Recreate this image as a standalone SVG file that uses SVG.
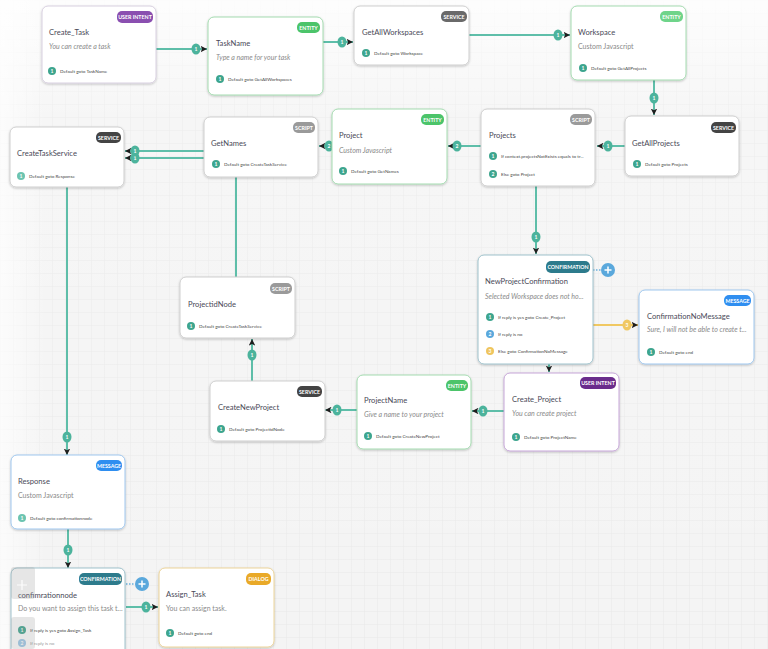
<svg xmlns="http://www.w3.org/2000/svg" width="768" height="649" viewBox="0 0 768 649">
<defs>
<pattern id="grid" width="13" height="13" patternUnits="userSpaceOnUse">
<path d="M13 0H0V13" fill="none" stroke="#e7e7e7" stroke-width="1"/>
</pattern>
<linearGradient id="fadeTop" x1="0" y1="0" x2="0" y2="1">
<stop offset="0" stop-color="#ffffff" stop-opacity="0.85"/>
<stop offset="0.18" stop-color="#ffffff" stop-opacity="0.2"/>
<stop offset="1" stop-color="#ffffff" stop-opacity="0"/>
</linearGradient>
<linearGradient id="fadeLeft" x1="0" y1="0" x2="1" y2="0">
<stop offset="0" stop-color="#ffffff" stop-opacity="0.7"/>
<stop offset="0.06" stop-color="#ffffff" stop-opacity="0"/>
</linearGradient>
<filter id="sh" x="-10%" y="-10%" width="120%" height="130%">
<feDropShadow dx="0" dy="1" stdDeviation="1.3" flood-color="#000" flood-opacity="0.22"/>
</filter>
<marker id="arr" viewBox="0 0 10 10" refX="10" refY="5" markerWidth="6.5" markerHeight="6.5" orient="auto" markerUnits="userSpaceOnUse">
<path d="M0 0L10 5L0 10L2.5 5z" fill="#1e1e1e"/>
</marker>
<style>
.node{fill:#fff;stroke:#cfcfcf;stroke-width:1;filter:url(#sh)}
.ent{stroke:#a4dbb0}
.msg{stroke:#9fc7ee}
.conf{stroke:#9fc2cc}
.ui{stroke:#c6a6d8}
.dlg{stroke:#ecd49a}
.title{font-family:Lato,"Liberation Sans",sans-serif;font-size:7.6px;fill:#4a4a58}
.sub{font-family:Lato,"Liberation Sans",sans-serif;font-size:7px;fill:#8a8a8a}
.it{font-style:italic}
.row{font-family:Lato,"Liberation Sans",sans-serif;font-size:4.6px;fill:#444}
.bt{font-family:Lato,"Liberation Sans",sans-serif;font-size:5.3px;fill:#fff;text-anchor:middle;font-weight:bold}
.num{font-family:Lato,"Liberation Sans",sans-serif;font-size:5px;fill:#fff;text-anchor:middle;font-weight:bold}
.rc{fill:#3da58e}
.line{fill:none;stroke:#5ebea9;stroke-width:2}
.yline{fill:none;stroke:#f0c862;stroke-width:2}
.dot{fill:none;stroke:#6ab0dc;stroke-width:1.5;stroke-dasharray:1.5 1.5}
.cb{fill:#4cb39c}
</style>
</defs>
<rect width="768" height="649" fill="#f4f4f4"/>
<rect width="768" height="649" fill="url(#grid)"/>
<rect width="768" height="649" fill="url(#fadeTop)"/>
<rect width="768" height="649" fill="url(#fadeLeft)"/>

<g id="connectors">
<path class="line" d="M156 49H207" marker-end="url(#arr)"/>
<ellipse class="cb" cx="196" cy="49" rx="4.5" ry="5.5"/><text class="num" x="196" y="50.8">1</text>
<path class="line" d="M323 42H353" marker-end="url(#arr)"/>
<ellipse class="cb" cx="342" cy="42" rx="4.5" ry="5.5"/><text class="num" x="342" y="43.8">1</text>
<path class="line" d="M469 35H570" marker-end="url(#arr)"/>
<ellipse class="cb" cx="558" cy="35" rx="4.5" ry="5.5"/><text class="num" x="558" y="36.8">1</text>
<path class="line" d="M654 80V115" marker-end="url(#arr)"/>
<ellipse class="cb" cx="654" cy="98" rx="4.5" ry="5.5"/><text class="num" x="654" y="99.8">1</text>
<path class="line" d="M625 146H597" marker-end="url(#arr)"/>
<ellipse class="cb" cx="608" cy="146" rx="4.5" ry="5.5"/><text class="num" x="608" y="147.8">1</text>
<path class="line" d="M481 146H448" marker-end="url(#arr)"/>
<ellipse class="cb" cx="457" cy="146" rx="4.5" ry="5.5"/><text class="num" x="457" y="147.8">2</text>
<path class="line" d="M332 146H319" marker-end="url(#arr)"/>
<ellipse class="cb" cx="329" cy="146" rx="4.5" ry="5.5"/><text class="num" x="329" y="147.8">2</text>
<path class="line" d="M204 151H125" marker-end="url(#arr)"/>
<path class="line" d="M236 277V158H125" marker-end="url(#arr)"/>
<ellipse class="cb" cx="135" cy="158" rx="4.5" ry="5.5"/><text class="num" x="135" y="159.8">1</text>
<ellipse class="cb" cx="135" cy="151" rx="4.5" ry="5.5"/><text class="num" x="135" y="152.8">1</text>
<path class="line" d="M536 186V254" marker-end="url(#arr)"/>
<ellipse class="cb" cx="536" cy="237" rx="4.5" ry="5.5"/><text class="num" x="536" y="238.8">1</text>
<path class="dot" d="M593 270H601"/>
<path class="yline" d="M593 325H638" marker-end="url(#arr)"/>
<ellipse cx="627" cy="325" rx="4.5" ry="5.5" fill="#f0c862"/><text class="num" x="627" y="326.8">3</text>
<path class="line" d="M549 364V372" marker-end="url(#arr)"/>
<path class="line" d="M504 411H472" marker-end="url(#arr)"/>
<ellipse class="cb" cx="483" cy="411" rx="4.5" ry="5.5"/><text class="num" x="483" y="412.8">1</text>
<path class="line" d="M357 410H325" marker-end="url(#arr)"/>
<ellipse class="cb" cx="337" cy="410" rx="4.5" ry="5.5"/><text class="num" x="337" y="411.8">1</text>
<path class="line" d="M252 381V339" marker-end="url(#arr)"/>
<ellipse class="cb" cx="252" cy="355" rx="4.5" ry="5.5"/><text class="num" x="252" y="356.8">1</text>
<path class="line" d="M67 187V455" marker-end="url(#arr)"/>
<ellipse class="cb" cx="67" cy="437" rx="4.5" ry="5.5"/><text class="num" x="67" y="438.8">1</text>
<path class="line" d="M68 529V568" marker-end="url(#arr)"/>
<ellipse class="cb" cx="68" cy="550" rx="4.5" ry="5.5"/><text class="num" x="68" y="551.8">1</text>
<path class="dot" d="M126 584H135"/>
<path class="line" d="M126 607H158" marker-end="url(#arr)"/>
<ellipse class="cb" cx="146" cy="607" rx="4.5" ry="5.5"/><text class="num" x="146" y="608.8">1</text>
</g>

<g id="plus-npc">
<circle cx="608" cy="270" r="7" fill="#5aa8dc"/>
<path d="M604.5 270H611.5M608 266.5V273.5" stroke="#fff" stroke-width="1.5"/>
</g>
<g id="plus-conf">
<circle cx="142" cy="584" r="7" fill="#5aa8dc"/>
<path d="M138.5 584H145.5M142 580.5V587.5" stroke="#fff" stroke-width="1.5"/>
</g>

<g id="Create_Task">
<rect class="node ui" x="42" y="6" width="114" height="77" rx="6" style="stroke:#d8d0e0"/>
<rect x="117" y="11" width="36" height="12" rx="5" fill="#8a4fb0"/><text class="bt" x="135" y="19">USER INTENT</text>
<text class="title" x="49" y="35">Create_Task</text>
<text class="sub it" x="49" y="48.5">You can create a task</text>
<circle class="rc" cx="52" cy="71" r="4"/><text class="num" x="52" y="72.7">1</text>
<text class="row" x="60" y="72.6">Default goto TaskName</text>
</g>

<g id="TaskName">
<rect class="node ent" x="208" y="17" width="115" height="78" rx="6"/>
<rect x="297" y="22" width="23" height="11" rx="5" fill="#4cc46a"/><text class="bt" x="308.5" y="29.6">ENTITY</text>
<text class="title" x="216" y="46">TaskName</text>
<text class="sub it" x="216" y="60">Type a name for your task</text>
<circle class="rc" cx="220" cy="79" r="4"/><text class="num" x="220" y="80.7">1</text>
<text class="row" x="228" y="80.6">Default goto GetAllWorkspaces</text>
</g>

<g id="GetAllWorkspaces">
<rect class="node" x="354" y="6" width="115" height="59" rx="6"/>
<rect x="441" y="11" width="26" height="11" rx="5" fill="#6a6a6a"/><text class="bt" x="454" y="18.6">SERVICE</text>
<text class="title" x="362" y="35">GetAllWorkspaces</text>
<circle class="rc" cx="366" cy="53" r="4"/><text class="num" x="366" y="54.7">1</text>
<text class="row" x="374" y="54.6">Default goto Workspace</text>
</g>

<g id="Workspace">
<rect class="node ent" x="571" y="6" width="115" height="74" rx="6"/>
<rect x="660" y="11" width="23" height="11" rx="5" fill="#6fd48a"/><text class="bt" x="671.5" y="18.6">ENTITY</text>
<text class="title" x="578" y="35">Workspace</text>
<text class="sub" x="578" y="48.5">Custom Javascript</text>
<circle class="rc" cx="583" cy="68" r="4"/><text class="num" x="583" y="69.7">1</text>
<text class="row" x="591" y="69.6">Default goto GetAllProjects</text>
</g>

<g id="GetAllProjects">
<rect class="node" x="625" y="116" width="114" height="60" rx="6"/>
<rect x="711" y="122" width="25" height="11" rx="5" fill="#444"/><text class="bt" x="723.5" y="129.6">SERVICE</text>
<text class="title" x="632" y="145.5">GetAllProjects</text>
<circle class="rc" cx="637" cy="164" r="4"/><text class="num" x="637" y="165.7">1</text>
<text class="row" x="645" y="165.6">Default goto Projects</text>
</g>

<g id="Projects">
<rect class="node" x="481" y="109" width="114" height="77" rx="6"/>
<rect x="570" y="114" width="22" height="11" rx="5" fill="#9a9a9a"/><text class="bt" x="581" y="121.6">SCRIPT</text>
<text class="title" x="489" y="137.5">Projects</text>
<circle class="rc" cx="493" cy="156" r="4"/><text class="num" x="493" y="157.7">1</text>
<text class="row" x="501" y="157.6">If context.projectsNotExists equals to tr...</text>
<circle class="rc" cx="493" cy="174" r="4"/><text class="num" x="493" y="175.7">2</text>
<text class="row" x="501" y="175.6">Else goto Project</text>
</g>

<g id="Project">
<rect class="node ent" x="332" y="109" width="115" height="75" rx="6"/>
<rect x="421" y="114" width="23" height="11" rx="5" fill="#4cc46a"/><text class="bt" x="432.5" y="121.6">ENTITY</text>
<text class="title" x="339" y="137.5">Project</text>
<text class="sub it" x="339" y="152.5">Custom Javascript</text>
<circle class="rc" cx="343" cy="171" r="4"/><text class="num" x="343" y="172.7">1</text>
<text class="row" x="351" y="172.6">Default goto GetNames</text>
</g>

<g id="GetNames">
<rect class="node" x="204" y="117" width="114" height="60" rx="6"/>
<rect x="293" y="122" width="22" height="11" rx="5" fill="#9a9a9a"/><text class="bt" x="304" y="129.6">SCRIPT</text>
<text class="title" x="211" y="145.5">GetNames</text>
<circle class="rc" cx="216" cy="164" r="4"/><text class="num" x="216" y="165.7">1</text>
<text class="row" x="224" y="165.6">Default goto CreateTaskService</text>
</g>

<g id="CreateTaskService">
<rect class="node" x="10" y="127" width="114" height="60" rx="6"/>
<rect x="96" y="132" width="25" height="11" rx="5" fill="#444"/><text class="bt" x="108.5" y="139.6">SERVICE</text>
<text class="title" x="17" y="155.5">CreateTaskService</text>
<circle class="rc" cx="21" cy="176" r="4" style="fill:#6cc4b0"/><text class="num" x="21" y="177.7">1</text>
<text class="row" x="29" y="177.6">Default goto Response</text>
</g>

<g id="ProjectidNode">
<rect class="node" x="180" y="277" width="115" height="61" rx="6"/>
<rect x="270" y="283" width="22" height="11" rx="5" fill="#9a9a9a"/><text class="bt" x="281" y="290.6">SCRIPT</text>
<text class="title" x="188" y="306.5">ProjectidNode</text>
<circle class="rc" cx="191" cy="326" r="4"/><text class="num" x="191" y="327.7">1</text>
<text class="row" x="199" y="327.6">Default goto CreateTaskService</text>
</g>

<g id="CreateNewProject">
<rect class="node" x="210" y="381" width="115" height="60" rx="6"/>
<rect x="297" y="386" width="25" height="11" rx="5" fill="#444"/><text class="bt" x="309.5" y="393.6">SERVICE</text>
<text class="title" x="218" y="409.5">CreateNewProject</text>
<circle class="rc" cx="221" cy="429" r="4"/><text class="num" x="221" y="430.7">1</text>
<text class="row" x="229" y="430.6">Default goto ProjectidNode</text>
</g>

<g id="ProjectName">
<rect class="node ent" x="357" y="375" width="114" height="74" rx="6"/>
<rect x="446" y="380" width="22" height="11" rx="5" fill="#4cc46a"/><text class="bt" x="457" y="387.6">ENTITY</text>
<text class="title" x="364" y="402.5">ProjectName</text>
<text class="sub it" x="364" y="416.5">Give a name to your project</text>
<circle class="rc" cx="368" cy="436" r="4"/><text class="num" x="368" y="437.7">1</text>
<text class="row" x="376" y="437.6">Default goto CreateNewProject</text>
</g>

<g id="NewProjectConfirmation">
<rect class="node conf" x="478" y="255" width="115" height="109" rx="6"/>
<rect x="546" y="261" width="44" height="12" rx="5" fill="#2d7b8c"/><text class="bt" x="568" y="269">CONFIRMATION</text>
<text class="title" x="485" y="283.5">NewProjectConfirmation</text>
<text class="sub it" x="485" y="298.5">Selected Workspace does not ho...</text>
<circle class="rc" cx="490" cy="317" r="4"/><text class="num" x="490" y="318.7">1</text>
<text class="row" x="498" y="318.6">If reply is yes goto Create_Project</text>
<circle cx="490" cy="334" r="4" fill="#5aa8dc"/><text class="num" x="490" y="335.7">2</text>
<text class="row" x="498" y="335.6">If reply is no</text>
<circle cx="490" cy="351" r="4" fill="#efc55e"/><text class="num" x="490" y="352.7">3</text>
<text class="row" x="498" y="352.6">Else goto ConfirmationNoMessage</text>
</g>

<g id="ConfirmationNoMessage">
<rect class="node msg" x="639" y="290" width="115" height="74" rx="6"/>
<rect x="724" y="295" width="27" height="11" rx="5" fill="#2f8ef0"/><text class="bt" x="737.5" y="302.6">MESSAGE</text>
<text class="title" x="647" y="318.5">ConfirmationNoMessage</text>
<text class="sub it" x="647" y="331.5">Sure, I will not be able to create t...</text>
<circle class="rc" cx="651" cy="352" r="4"/><text class="num" x="651" y="353.7">1</text>
<text class="row" x="659" y="353.6">Default goto end</text>
</g>

<g id="Create_Project">
<rect class="node ui" x="504" y="373" width="115" height="78" rx="6"/>
<rect x="580" y="377" width="36" height="12" rx="5" fill="#6a2c8c"/><text class="bt" x="598" y="385">USER INTENT</text>
<text class="title" x="512" y="401.5">Create_Project</text>
<text class="sub it" x="512" y="415.5">You can create project</text>
<circle class="rc" cx="516" cy="437" r="4"/><text class="num" x="516" y="438.7">1</text>
<text class="row" x="524" y="438.6">Default goto ProjectName</text>
</g>

<g id="Response">
<rect class="node msg" x="11" y="455" width="114" height="74" rx="6"/>
<rect x="96" y="460" width="26" height="11" rx="5" fill="#2f8ef0"/><text class="bt" x="109" y="467.6">MESSAGE</text>
<text class="title" x="18" y="483.5">Response</text>
<text class="sub" x="18" y="497.5">Custom Javascript</text>
<circle class="rc" cx="22" cy="518" r="4" style="fill:#6cc4b0"/><text class="num" x="22" y="519.7">1</text>
<text class="row" x="30" y="519.6">Default goto confirmationnode</text>
</g>

<g id="confimrationnode">
<rect class="node conf" x="11" y="568" width="114" height="90" rx="6"/>
<rect x="79" y="573" width="43" height="12" rx="5" fill="#2d7b8c"/><text class="bt" x="100.5" y="581">CONFIRMATION</text>
<text class="title" x="18" y="597.5">confimrationnode</text>
<text class="sub" x="18" y="610.5">Do you want to assign this task t...</text>
<circle class="rc" cx="22" cy="630" r="4"/><text class="num" x="22" y="631.7">1</text>
<text class="row" x="30" y="631.6">If reply is yes goto Assign_Task</text>
<circle cx="22" cy="643" r="4" fill="#9cc8e8"/><text class="num" x="22" y="644.7">2</text>
<text class="row" x="30" y="644.6" style="fill:#999">If reply is no</text>
</g>

<g id="Assign_Task">
<rect class="node dlg" x="159" y="568" width="115" height="79" rx="6"/>
<rect x="246" y="573" width="25" height="12" rx="5" fill="#e9a928"/><text class="bt" x="258.5" y="581">DIALOG</text>
<text class="title" x="166" y="596.5">Assign_Task</text>
<text class="sub" x="166" y="610.5">You can assign task.</text>
<circle class="rc" cx="170" cy="633" r="4"/><text class="num" x="170" y="634.7">1</text>
<text class="row" x="178" y="634.6">Default goto end</text>
</g>

<g id="zoom-controls">
<rect x="11" y="567" width="24" height="32" rx="3" fill="#9a9a9a" fill-opacity="0.25"/>
<path d="M17 585H27M22 580V590" stroke="#ffffff" stroke-width="1.2" stroke-opacity="0.9"/>
<rect x="11" y="617" width="24" height="32" rx="3" fill="#9a9a9a" fill-opacity="0.25"/>
</g>
</svg>
